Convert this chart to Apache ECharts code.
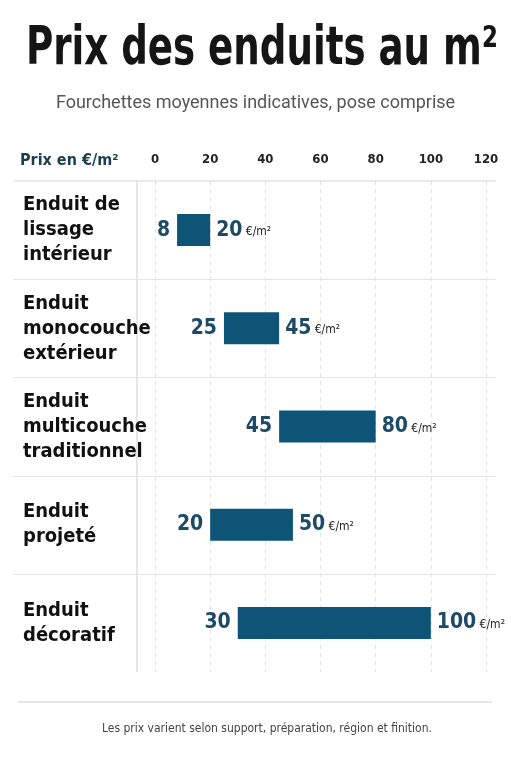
<!DOCTYPE html>
<html lang="fr">
<head>
<meta charset="UTF-8">
<title>Prix des enduits au m²</title>
<script src="https://cdn.jsdelivr.net/npm/echarts@6/dist/echarts.min.js"></script>
<style>
  html, body { margin: 0; padding: 0; background: #fff; }
  #main { width: 511px; height: 768px; }
</style>
</head>
<body>
<div id="main"></div>
<script>
var categories = [
  'Enduit de\nlissage\nintérieur',
  'Enduit\nmonocouche\nextérieur',
  'Enduit\nmulticouche\ntraditionnel',
  'Enduit\nprojeté',
  'Enduit\ndécoratif'
];
var prixMin = [8, 25, 45, 20, 30];
var prixMax = [20, 45, 80, 50, 100];
var ticks = [0, 20, 40, 60, 80, 100, 120];

var narrow = "'DejaVu Sans Condensed', 'Liberation Sans Narrow', Roboto, sans-serif";
var plain = "Roboto, 'Noto Sans', sans-serif";
var blue = '#0d5477';
var dark = '#1d4a66';

var chart = echarts.init(document.getElementById('main'));

var gridTop = 181, gridBottom = 96, gridLeft = 155, gridRight = 25;

var option = {
  backgroundColor: '#fff',
  animation: false,
  title: [
    {
      text: 'Fourchettes moyennes indicatives, pose comprise',
      left: 'center', top: 89,
      textStyle: { fontFamily: plain, fontWeight: 'normal', fontSize: 18, color: '#555' }
    },
    {
      text: 'Prix en €/m²',
      left: 15, top: 148,
      textStyle: { fontFamily: narrow, fontWeight: 'bold', fontSize: 16, color: '#1b3d52' }
    },
    {
      text: 'Les prix varient selon support, préparation, région et finition.',
      left: 97, top: 718,
      textStyle: { fontFamily: narrow, fontWeight: 'normal', fontSize: 12, color: '#444' }
    }
  ],
  grid: { left: gridLeft, right: gridRight, top: gridTop, bottom: gridBottom },
  xAxis: {
    type: 'value',
    position: 'top',
    min: 0, max: 120, interval: 20,
    axisLine: { show: false },
    axisTick: { show: false },
    axisLabel: {
      margin: 15,
      fontFamily: narrow, fontWeight: 'bold', fontSize: 13, color: '#222',
      formatter: function (v) { return ticks.indexOf(v) >= 0 ? String(v) : ''; }
    },
    splitLine: { show: true, lineStyle: { color: '#e2e2e2', type: [4, 4], width: 1 } }
  },
  yAxis: {
    type: 'category',
    inverse: true,
    data: categories,
    axisLine: { show: false },
    axisTick: { show: false },
    splitLine: { show: false },
    axisLabel: {
      align: 'left',
      margin: gridLeft - 23,
      fontFamily: narrow, fontWeight: 'bold', fontSize: 20, lineHeight: 25, color: '#111'
    }
  },
  series: [
    {
      name: 'base',
      type: 'bar',
      stack: 'prix',
      barWidth: 32,
      silent: true,
      itemStyle: { color: 'transparent' },
      data: prixMin,
      label: {
        show: true,
        position: 'insideRight',
        distance: 7,
        fontFamily: narrow, fontWeight: 'bold', fontSize: 21, color: dark
      }
    },
    {
      name: 'fourchette',
      type: 'bar',
      stack: 'prix',
      barWidth: 32,
      itemStyle: { color: blue },
      data: prixMax.map(function (v, i) { return v - prixMin[i]; }),
      label: {
        show: true,
        position: 'right',
        distance: 6,
        formatter: function (p) { return '{v|' + prixMax[p.dataIndex] + '} {u|€/m²}'; },
        rich: {
          v: { fontFamily: narrow, fontWeight: 'bold', fontSize: 21, color: dark },
          u: { fontFamily: narrow, fontSize: 12, color: '#222', padding: [4, 0, 0, 0] }
        }
      }
    }
  ]
};

chart.setOption(option);

// title (condensed look), table rules and footer rule
var h = 768 - gridTop - gridBottom;
var rowH = h / categories.length;
var els = [];
els.push({
  type: 'text', x: 262, y: 24, scaleX: 0.78, silent: true,
  style: {
    text: 'Prix des enduits au m²', textAlign: 'center',
    font: "bold 53px 'DejaVu Sans Condensed', sans-serif", fill: '#151515'
  }
});
els.push({ type: 'line', shape: { x1: 13, y1: gridTop, x2: 496, y2: gridTop }, style: { stroke: '#d6d6d6', lineWidth: 1 }, silent: true });
els.push({ type: 'line', shape: { x1: 137, y1: gridTop, x2: 137, y2: gridTop + h }, style: { stroke: '#cfcfcf', lineWidth: 1 }, silent: true });
for (var i = 1; i < categories.length; i++) {
  var y = Math.round(gridTop + rowH * i) + 0.5;
  els.push({ type: 'line', shape: { x1: 13, y1: y, x2: 496, y2: y }, style: { stroke: '#e4e4e4', lineWidth: 1 }, silent: true });
}
els.push({ type: 'line', shape: { x1: 18, y1: 702, x2: 492, y2: 702 }, style: { stroke: '#cfcfcf', lineWidth: 1 }, silent: true });
chart.setOption({ graphic: els });
</script>
</body>
</html>
